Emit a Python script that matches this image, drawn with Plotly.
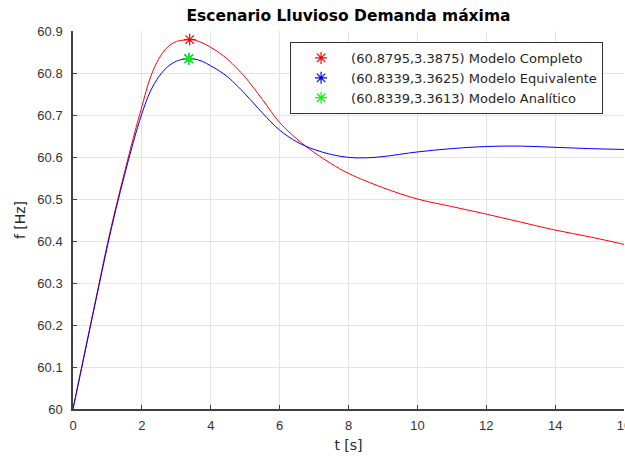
import plotly.graph_objects as go

# ---- data ----
t_completo = [0, 0.25, 0.5, 0.75, 1.0, 1.25, 1.5, 1.75, 2.0, 2.25, 2.5, 2.75, 3.0, 3.25,
              3.3875, 3.5, 3.75, 4.0, 4.25, 4.5, 4.75, 5.0, 5.5, 6.0, 6.5, 7.0, 7.5, 8.0,
              9.0, 10.0, 11.0, 12.0, 13.0, 14.0, 15.0, 16.0]
f_completo = [60.0, 60.100, 60.198, 60.296, 60.394, 60.482, 60.565, 60.645, 60.720, 60.790,
              60.835, 60.862, 60.875, 60.8785, 60.8795, 60.879, 60.872, 60.861, 60.848,
              60.832, 60.812, 60.790, 60.737, 60.682, 60.643, 60.611, 60.584, 60.561,
              60.527, 60.500, 60.482, 60.464, 60.445, 60.426, 60.410, 60.392]

t_equivalente = [0, 0.25, 0.5, 0.75, 1.0, 1.25, 1.5, 1.75, 2.0, 2.25, 2.5, 2.75, 3.0, 3.25,
                 3.3625, 3.5, 3.75, 4.0, 4.25, 4.5, 4.75, 5.0, 5.5, 6.0, 6.5, 7.0, 7.5, 8.0,
                 8.5, 9.0, 10.0, 11.0, 12.0, 13.0, 14.0, 15.0, 16.0]
f_equivalente = [60.0, 60.097, 60.195, 60.292, 60.388, 60.477, 60.558, 60.635, 60.703, 60.757,
                 60.792, 60.815, 60.828, 60.8335, 60.8339, 60.8335, 60.828, 60.817, 60.805,
                 60.790, 60.771, 60.750, 60.705, 60.664, 60.636, 60.618, 60.606, 60.599,
                 60.598, 60.601, 60.612, 60.620, 60.625, 60.626, 60.623, 60.620, 60.618]

# peak markers: (frequency, time)
peak_labels = ["(60.8795,3.3875) Modelo Completo",
               "(60.8339,3.3625) Modelo Equivalente",
               "(60.8339,3.3613) Modelo Analítico"]
peak_t = [3.3875, 3.3625, 3.3613]
peak_f = [60.8795, 60.8339, 60.8339]
peak_colors = ["#ff0000", "#0000ff", "#00ff00"]

x_ticks = [0, 2, 4, 6, 8, 10, 12, 14, 16]
y_ticks = [60, 60.1, 60.2, 60.3, 60.4, 60.5, 60.6, 60.7, 60.8, 60.9]
y_ticktext = ["60", "60.1", "60.2", "60.3", "60.4", "60.5", "60.6", "60.7", "60.8", "60.9"]

title_text = "Escenario Lluvioso Demanda máxima"
x_title = "t [s]"
y_title = "f [Hz]"

# ---- figure ----
fig = go.Figure()
fig.add_trace(go.Scatter(x=t_completo, y=f_completo, mode="lines", line_shape="spline",
                         line=dict(color="#ff0000", width=1), showlegend=False))
fig.add_trace(go.Scatter(x=t_equivalente, y=f_equivalente, mode="lines", line_shape="spline",
                         line=dict(color="#0000ff", width=1), showlegend=False))
for lab, tx, fy, col in zip(peak_labels, peak_t, peak_f, peak_colors):
    fig.add_trace(go.Scatter(x=[tx], y=[fy], mode="markers", name=lab,
                             marker=dict(symbol="asterisk-open", size=10, color=col,
                                         line=dict(color=col, width=1.2))))

axis_col = "#404040"
fig.update_layout(
    width=625, height=456,
    margin=dict(l=73, r=1, t=31, b=47),
    paper_bgcolor="white", plot_bgcolor="white",
    title=dict(text="<b>" + title_text + "</b>", x=(73 + 624) / 2 / 625, xanchor="center",
               y=1 - 16 / 456, yanchor="middle",
               font=dict(family="DejaVu Sans", size=15.5, color="#000000")),
    legend=dict(x=0.394, y=0.971, xanchor="left", yanchor="top",
                bgcolor="white", bordercolor="#303030", borderwidth=1,
                itemwidth=50,
                font=dict(family="DejaVu Sans", size=13, color="#262626")),
    xaxis=dict(range=[0, 16], tickvals=x_ticks, ticks="inside", ticklen=4,
               tickcolor=axis_col, showline=True, linecolor=axis_col, linewidth=1.5,
               showgrid=True, gridcolor="#e3e3e3", gridwidth=1, zeroline=False,
               tickfont=dict(family="Liberation Sans", size=13, color="#333333"),
               ticklabelstandoff=4, ticklabeloverflow="allow",
               title=dict(text=x_title, standoff=8,
                          font=dict(family="DejaVu Sans", size=14, color="#262626")),
               automargin=False),
    yaxis=dict(range=[60, 60.9], tickvals=y_ticks, ticktext=y_ticktext, ticks="inside",
               ticklen=4, tickcolor=axis_col, showline=True, linecolor=axis_col,
               linewidth=1.5, showgrid=True, gridcolor="#e3e3e3", gridwidth=1,
               zeroline=False,
               tickfont=dict(family="Liberation Sans", size=13, color="#333333"),
               ticklabelstandoff=6,
               title=dict(text=y_title, standoff=8,
                          font=dict(family="DejaVu Sans", size=14, color="#262626")),
               automargin=False),
)

fig.write_html("out.html")
